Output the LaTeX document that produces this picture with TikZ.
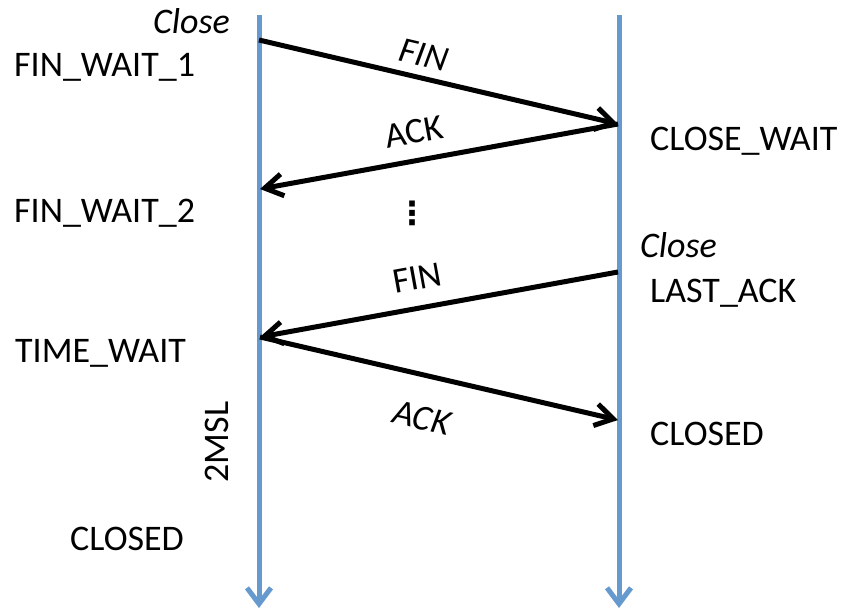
\documentclass[tikz,border=0pt]{standalone}
\usepackage{fontspec}
\setmainfont{Carlito}
\newfontfamily\symfont{DejaVu Sans}
\usetikzlibrary{arrows.meta}
\definecolor{lifeblue}{RGB}{102,153,206}
\begin{document}
\begin{tikzpicture}[x=1pt,y=-1pt,
  every node/.style={inner sep=0pt, font=\fontsize{36}{40}\selectfont},
  life/.style={draw=lifeblue, line width=5pt, -{Straight Barb[length=16pt,width=24pt]}},
  msg/.style={draw=black, line width=5pt, -{Straight Barb[length=18pt,width=22pt]}},
  state/.style={anchor=base west},
  lab/.style={anchor=center}]
\useasboundingbox (0,0) rectangle (847,613);
% lifelines
\coordinate (Ltop) at (259,15);
\coordinate (Lbot) at (259,608);
\coordinate (Rtop) at (619,15);
\coordinate (Rbot) at (619,608);
\draw[life] (Ltop) -- (Lbot);
\draw[life] (Rtop) -- (Rbot);
% message end points
\coordinate (a1) at (259,40);
\coordinate (b1) at (618,124);
\coordinate (a2) at (260,189);
\coordinate (b2) at (618,272);
\coordinate (a3) at (260,337);
\coordinate (b3) at (618,420);
\draw[msg] (a1) -- (b1);
\draw[msg] (b1) -- (a2);
\draw[msg] (b2) -- (a3);
\draw[msg] (a3) -- (b3);
% message labels
\node[lab, rotate=-13.3] (fin1) at (424,55) {\itshape FIN};
\node[lab, rotate=10.3] (ack1) at (414,132) {ACK};
\node[lab, rotate=10.3] (fin2) at (417,278) {FIN};
\node[lab, rotate=-13] (ack2) at (422,418) {\itshape ACK};
\node[lab, font=\symfont\bfseries\fontsize{32}{36}\selectfont] (dots) at (412,213) {⋮};
% left states
\node[anchor=base east] (closeL) at (230,33) {\itshape Close};
\node[state] (fw1) at (14,76) {FIN\_WAIT\_1};
\node[state] (fw2) at (14,222) {FIN\_WAIT\_2};
\node[state] (tw) at (15,362) {TIME\_WAIT};
\node[lab, rotate=90] (msl) at (217,442) {2MSL};
\node[state] (clL) at (70,550) {CLOSED};
% right states
\node[state] (cw) at (650,150) {CLOSE\_WAIT};
\node[state] (closeR) at (640,257) {\itshape Close};
\node[state] (la) at (650,302) {LAST\_ACK};
\node[state] (clR) at (650,445) {CLOSED};
\end{tikzpicture}
\end{document}
